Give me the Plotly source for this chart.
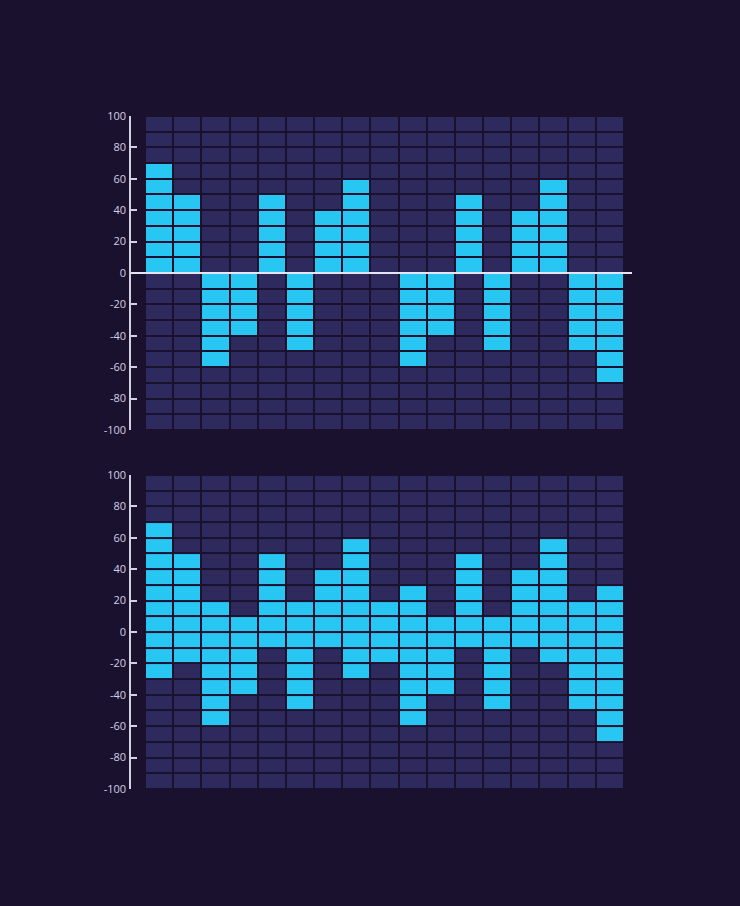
import plotly.graph_objects as go
from plotly.subplots import make_subplots

# ---- data ----
columns = list(range(1, 18))
top_values = [70, 50, -60, -40, 50, -50, 40, 60, 0, -60, -40, 50, -50, 40, 60, -50, -70]
bottom_high = [70, 50, 20, 10, 50, 20, 40, 60, 20, 30, 10, 50, 10, 40, 60, 20, 30]
bottom_low = [-30, -20, -60, -40, -10, -50, -10, -30, -20, -60, -40, -10, -50, -10, -20, -50, -70]
row_centers = list(range(-95, 100, 10))
tick_vals = list(range(-100, 101, 20))
tick_text = [str(v) for v in tick_vals]

BG = "#1a112e"
CELL = "#2f2a5e"
CYAN = "#27c6f3"
AXIS = "#d2d0e4"


def grid(lows, highs):
    return [[1 if lo < yc < hi else 0 for lo, hi in zip(lows, highs)] for yc in row_centers]


top_low = [min(0, v) for v in top_values]
top_high = [max(0, v) for v in top_values]

fig = make_subplots(rows=2, cols=1, vertical_spacing=0.067)

for r, (lo, hi) in enumerate([(top_low, top_high), (bottom_low, bottom_high)], start=1):
    fig.add_trace(go.Heatmap(
        x=columns, y=row_centers, z=grid(lo, hi),
        zmin=0, zmax=1,
        colorscale=[[0, CELL], [1, CYAN]],
        showscale=False, xgap=2, ygap=2, hoverinfo="skip",
    ), row=r, col=1)

fig.update_xaxes(range=[0.003, 17.784], showgrid=False, zeroline=False,
                 showticklabels=False, showline=False, ticks="")
fig.update_yaxes(range=[-100, 100], tickvals=tick_vals, ticktext=tick_text,
                 showgrid=False, zeroline=False,
                 showline=True, linecolor=AXIS, linewidth=1.5,
                 ticks="inside", ticklen=6, tickwidth=1.5, tickcolor=AXIS,
                 tickfont=dict(family="Open Sans", size=11, color=AXIS),
                 ticklabelstandoff=1)

fig.update_layout(
    width=740, height=906,
    paper_bgcolor=BG, plot_bgcolor=BG,
    margin=dict(l=131, r=108, t=116, b=117),
    showlegend=False,
    shapes=[dict(type="line", xref="x domain", yref="y", x0=0, x1=1, y0=0, y1=0,
                 line=dict(color="#e6e4f4", width=2), layer="above")],
)

fig.write_html("out.html", config={"displayModeBar": False},
               post_script="document.body.style.margin='0';document.body.style.background='%s';" % BG)
